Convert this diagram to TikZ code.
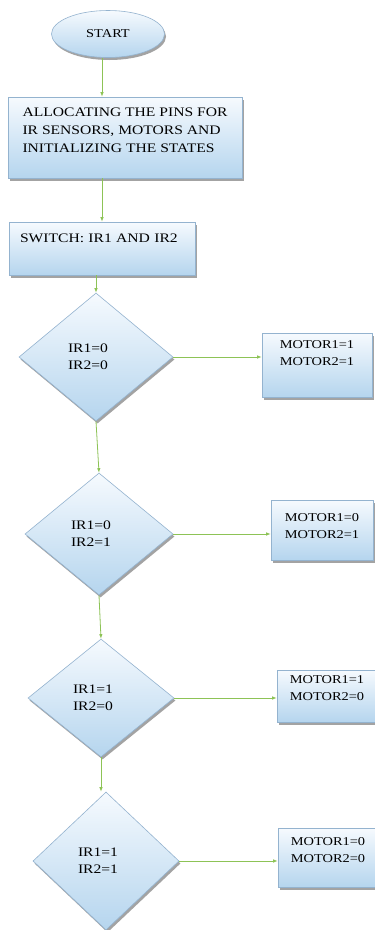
\documentclass[tikz,border=0pt]{standalone}
\usepackage{fontspec}
\setmainfont[FakeStretch=1.2]{Liberation Serif}
\usetikzlibrary{shapes.geometric,arrows.meta,shadows,calc}
\definecolor{fillTop}{HTML}{F6FAFE}
\definecolor{fillBot}{HTML}{B5D5EE}
\definecolor{edgec}{HTML}{94B3CF}
\definecolor{arrowc}{HTML}{8DC356}
\tikzset{
  shapebase/.style={draw=edgec, line width=0.6pt, top color=fillTop, bottom color=fillBot,
    drop shadow={shadow xshift=1.5pt, shadow yshift=-2.5pt, fill=black!60, opacity=0.6},
    inner sep=0pt, text=black},
  procbox/.style={shapebase, rectangle, font=\fontsize{13}{18}\selectfont, align=left},
  outbox/.style={shapebase, rectangle, font=\fontsize{12}{17}\selectfont, align=left},
  decision/.style={shapebase, diamond, font=\fontsize{13}{17}\selectfont, align=left, text width=56pt},
  terminal/.style={shapebase, ellipse, font=\fontsize{12}{14}\selectfont},
  flow/.style={draw=arrowc, line width=0.8pt, -{Latex[length=4.5pt,width=3.5pt]}}
}
\begin{document}
\begin{tikzpicture}[x=1pt,y=-1pt]
\useasboundingbox (0,0) rectangle (375,930);
\fill[white] (0,0) rectangle (375,930);

\node[terminal, minimum width=113pt, minimum height=47pt] (start) at (108,34) {START};
\node[procbox, minimum width=234pt, minimum height=81pt, text depth=14pt] (box1) at (125,137.5)
  {ALLOCATING THE PINS FOR\\IR SENSORS, MOTORS AND\\INITIALIZING THE STATES};
\node[procbox, minimum width=186pt, minimum height=53pt, text width=164pt, text depth=20pt] (box2) at (102,248.5)
  {SWITCH: IR1 AND IR2};

\node[decision, minimum width=154pt, minimum height=128pt] (d1) at (96,357) {IR1=0\\IR2=0};
\node[decision, minimum width=148pt, minimum height=122pt] (d2) at (99,534) {IR1=0\\IR2=1};
\node[decision, minimum width=146pt, minimum height=118pt] (d3) at (101,698) {IR1=1\\IR2=0};
\node[decision, minimum width=146pt, minimum height=138pt] (d4) at (106,861) {IR1=1\\IR2=1};

\node[outbox, minimum width=110pt, minimum height=64pt, text depth=23pt] (m1) at (317,365) {MOTOR1=1\\MOTOR2=1};
\node[outbox, minimum width=102pt, minimum height=60pt, text depth=8pt] (m2) at (322,530) {MOTOR1=0\\MOTOR2=1};
\node[outbox, minimum width=100pt, minimum height=52pt, text depth=15pt] (m3) at (327,696) {MOTOR1=1\\MOTOR2=0};
\node[outbox, minimum width=100pt, minimum height=59pt, text depth=15pt] (m4) at (328,857.5) {MOTOR1=0\\MOTOR2=0};

\draw[flow] (start.south -| box2.north) -- (box1.north -| box2.north);
\draw[flow] (box1.south -| box2.north) -- (box2.north);
\draw[flow] (box2.south -| d1.north) -- (d1.north);
\draw[flow] (d1.south) -- (d2.north);
\draw[flow] (d2.south) -- (d3.north);
\draw[flow] (d3.south) -- (d3.south |- d4.north);
\draw[flow] (d1.east) -- (d1.east -| m1.west);
\draw[flow] (d2.east) -- (d2.east -| m2.west);
\draw[flow] (d3.east) -- (d3.east -| m3.west);
\draw[flow] (d4.east) -- (d4.east -| m4.west);
\end{tikzpicture}
\end{document}
